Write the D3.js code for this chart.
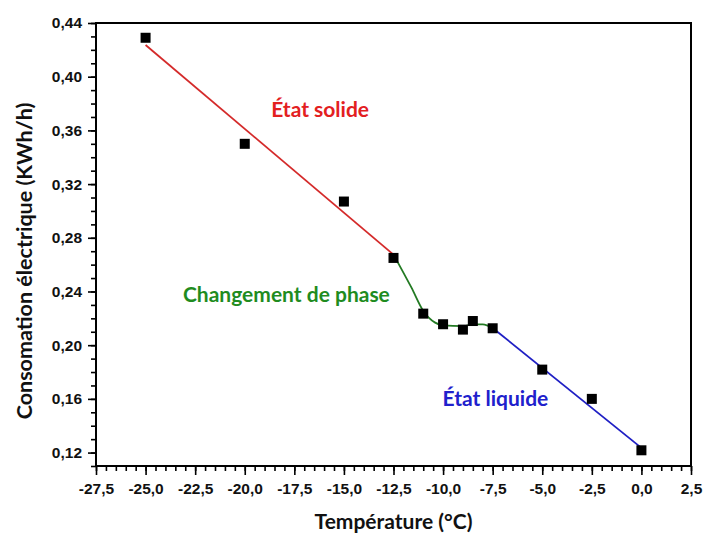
<!DOCTYPE html>
<html>
<head>
<meta charset="utf-8">
<script src="https://cdn.jsdelivr.net/npm/d3@7"></script>
<style>
  body { margin: 0; background: #fff; }
  svg { display: block; }
  .tick-label { font-family: "Liberation Sans", Arial, sans-serif; font-weight: bold; font-size: 15.5px; fill: #111; }
  .title { font-family: Lato, "Open Sans", sans-serif; font-weight: bold; fill: #111; }
  .note { font-family: Lato, "Open Sans", sans-serif; font-weight: bold; font-size: 21px; }
</style>
</head>
<body>
<svg id="chart"></svg>
<script>
const width = 703;
const height = 534;
const margin = {top: 23, right: 12, bottom: 68, left: 96};

// measured points: temperature (°C) / consumption (kWh/h)
const temps = [-25, -20, -15, -12.5, -11, -10, -9, -8.5, -7.5, -5, -2.5, 0];
const conso = [0.429, 0.350, 0.307, 0.265, 0.2235, 0.2156, 0.2116, 0.218, 0.2126, 0.1818, 0.160, 0.1217];

// fitted lines
const solidFit = [[-25, 0.4236], [-12.5, 0.2675]];
const phaseFit = [[-12.5, 0.2675], [-11.6, 0.243], [-11, 0.2255], [-10.4, 0.2168], [-10, 0.2148],
                  [-9, 0.2142], [-8.5, 0.2155], [-8, 0.2155], [-7.5, 0.2128]];
const liquidFit = [[-7.5, 0.2128], [0, 0.1235]];

const xTicks = [-27.5, -25, -22.5, -20, -17.5, -15, -12.5, -10, -7.5, -5, -2.5, 0, 2.5];
const yTicks = [0.12, 0.16, 0.20, 0.24, 0.28, 0.32, 0.36, 0.40, 0.44];

const svg = d3.select('#chart').attr('width', width).attr('height', height);

const x = d3.scaleLinear().domain([-27.5, 2.5]).range([margin.left, width - margin.right]);
const y = d3.scaleLinear().domain([0.11, 0.44]).range([height - margin.bottom, margin.top]);

const comma = (d, n) => d.toFixed(n).replace('.', ',');

// minor ticks
const xMinor = d3.range(-27.5, 2.51, 0.5);
const yMinor = d3.range(0.11, 0.4401, 0.01);

const xAxisMinor = svg.append('g').attr('transform', `translate(0, ${height - margin.bottom})`)
    .call(d3.axisBottom(x).tickValues(xMinor).tickSize(5).tickFormat(''));
const yAxisMinor = svg.append('g').attr('transform', `translate(${margin.left}, 0)`)
    .call(d3.axisLeft(y).tickValues(yMinor).tickSize(5).tickFormat(''));

const xAxis = svg.append('g').attr('transform', `translate(0, ${height - margin.bottom})`)
    .call(d3.axisBottom(x).tickValues(xTicks).tickSize(9).tickPadding(8).tickFormat(d => comma(d, 1)));
const yAxis = svg.append('g').attr('transform', `translate(${margin.left}, 0)`)
    .call(d3.axisLeft(y).tickValues(yTicks).tickSize(8).tickPadding(6).tickFormat(d => comma(d, 2)));

[xAxisMinor, yAxisMinor, xAxis, yAxis].forEach(a => {
    a.select('.domain').remove();
    a.selectAll('.tick line').attr('stroke', '#000').attr('stroke-width', 1.6);
});
[xAxis, yAxis].forEach(a => a.selectAll('.tick text').attr('class', 'tick-label').attr('fill', null));

// frame
svg.append('rect')
    .attr('x', x(-27.5)).attr('y', y(0.44))
    .attr('width', x(2.5) - x(-27.5)).attr('height', y(0.11) - y(0.44))
    .attr('fill', 'none').attr('stroke', '#000').attr('stroke-width', 2);

// fitted lines
const line = d3.line().x(d => x(d[0])).y(d => y(d[1]));
const smooth = d3.line().x(d => x(d[0])).y(d => y(d[1])).curve(d3.curveMonotoneX);

svg.append('path').datum(solidFit).attr('d', line)
    .attr('fill', 'none').attr('stroke', '#d42a2a').attr('stroke-width', 1.8);
svg.append('path').datum(phaseFit).attr('d', smooth)
    .attr('fill', 'none').attr('stroke', '#237a23').attr('stroke-width', 1.8);
svg.append('path').datum(liquidFit).attr('d', line)
    .attr('fill', 'none').attr('stroke', '#1f1fc4').attr('stroke-width', 1.8);

// points
const pts = temps.map((t, i) => ({t: t, c: conso[i]}));
const s = 10;
svg.selectAll('rect.pt').data(pts).enter().append('rect')
    .attr('class', 'pt')
    .attr('x', d => x(d.t) - s / 2)
    .attr('y', d => y(d.c) - s / 2)
    .attr('width', s).attr('height', s)
    .attr('fill', '#000');

// annotations
svg.append('text').attr('class', 'note').attr('fill', '#e3201f')
    .attr('x', x(-16.2)).attr('y', y(0.370)).attr('text-anchor', 'middle').text('État solide');
svg.append('text').attr('class', 'note').attr('fill', '#1f8c1f')
    .attr('x', x(-17.9)).attr('y', y(0.232)).attr('text-anchor', 'middle').text('Changement de phase');
svg.append('text').attr('class', 'note').attr('fill', '#2020cc')
    .attr('x', x(-7.36)).attr('y', y(0.1545)).attr('text-anchor', 'middle').text('État liquide');

// axis titles
svg.append('text').attr('class', 'title').attr('font-size', 21)
    .attr('x', (x(-27.5) + x(2.5)) / 2).attr('y', 529).attr('text-anchor', 'middle').text('Température (°C)');
svg.append('text').attr('class', 'title').attr('font-size', 21.5)
    .attr('transform', 'translate(32, 261) rotate(-90)')
    .attr('text-anchor', 'middle').text('Consomation électrique (KWh/h)');
</script>
</body>
</html>
